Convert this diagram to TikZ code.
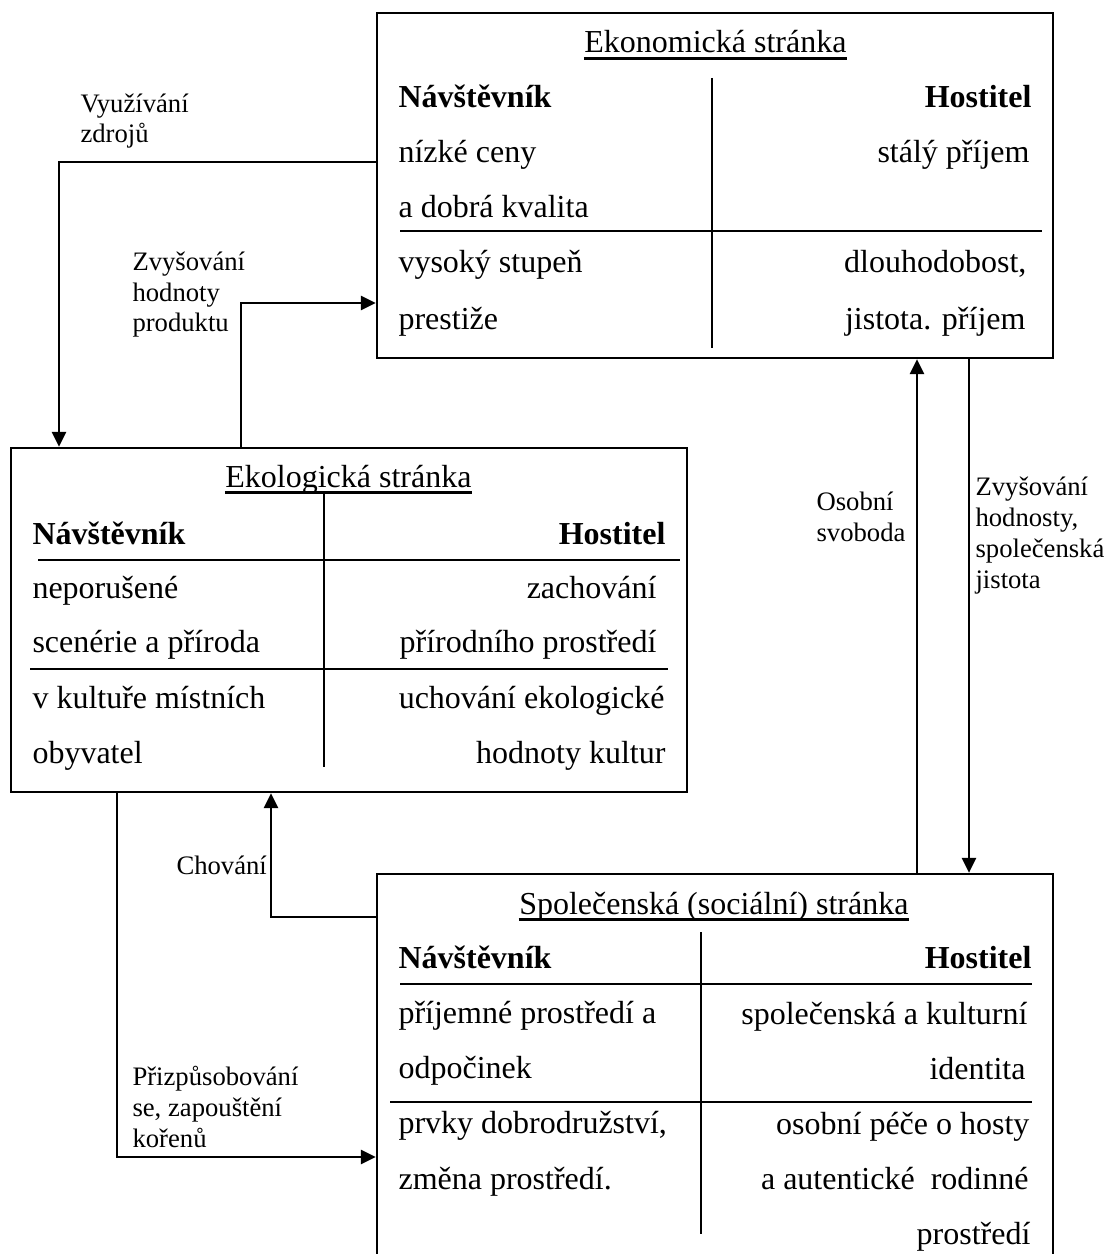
\documentclass[tikz,border=0pt]{standalone}
\usepackage{fontspec}
\setmainfont{Liberation Serif}
\usetikzlibrary{arrows.meta,fit}

\begin{document}
\begin{tikzpicture}[x=0.375pt,y=-0.375pt,
		box/.style={draw,line width=0.9pt,inner sep=0pt},
		txt/.style={inner sep=0pt,font=\fontsize{12}{14}\selectfont},
		lft/.style={txt,anchor=base west},
		rgt/.style={txt,anchor=base east},
		lbl/.style={inner sep=0pt,anchor=base west,align=left,font=\fontsize{10}{11.6}\selectfont},
		arr/.style={line width=0.75pt,-{Triangle[length=5.6pt,width=5.3pt]}}]
			\useasboundingbox (0,0) rectangle (1107,1254);

			\node[box,fit={(377,13) (1053,358)}] (eco) {};
			\node[box,fit={(11,448) (687,792)}] (ecol) {};
			\node[box,fit={(377,874) (1053,1262)}] (soc) {};

			\node[rgt] (ecoT) at (847,53) {Ekonomická stránka};
			\node[rgt] (ecolT) at (472,487) {Ekologická stránka};
			\node[rgt] (socT) at (909,914) {Společenská (sociální) stránka};
			\foreach \t in {ecoT,ecolT,socT}
			\draw[line width=0.9pt] ([yshift=-2pt]\t.base west) -- ([yshift=-2pt]\t.base east);

			\draw[line width=0.75pt] (712,78) -- (712,348);
			\draw[line width=0.75pt] (400,231) -- (1042,231);
			\draw[line width=0.75pt] (324,492) -- (324,767);
			\draw[line width=0.75pt] (38,560) -- (680,560);
			\draw[line width=0.75pt] (30,669) -- (668,669);
			\draw[line width=0.75pt] (701,932) -- (701,1234);
			\draw[line width=0.75pt] (400,984) -- (1032,984);
			\draw[line width=0.75pt] (390,1102) -- (1032,1102);

			\node[lft] (ecoV) at (398,108) {\textbf{Návštěvník}};
			\node[rgt] (ecoH) at (1032,108) {\textbf{Hostitel}};
			\node[lft] (ecolV) at (32,544) {\textbf{Návštěvník}};
			\node[rgt] (ecolH) at (666,544) {\textbf{Hostitel}};
			\node[lft] (socV) at (398,968) {\textbf{Návštěvník}};
			\node[rgt] (socH) at (1032,968) {\textbf{Hostitel}};

			\foreach \y/\t in {163/nízké ceny,218/a dobrá kvalita,273/vysoký stupeň,330/prestiže}
			\node[lft] (ecoL\y) at (398,\y) {\t};
			\foreach \y/\x/\t in {163/1030/stálý příjem,273/1027/{dlouhodobost,},330/1026/jistota. příjem}
			\node[rgt] (ecoR\y) at (\x,\y) {\t};

			\foreach \y/\t in {598/neporušené,652/scenérie a příroda,708/v kultuře místních,763/obyvatel}
			\node[lft] (ecolL\y) at (32,\y) {\t};
			\foreach \y/\x/\t in {598/657/zachování,652/657/přírodního prostředí,708/665/uchování ekologické,763/666/hodnoty kultur}
			\node[rgt] (ecolR\y) at (\x,\y) {\t};

			\foreach \y/\t in {1023/příjemné prostředí a,1078/odpočinek,1133/{prvky dobrodružství,},1189/změna prostředí.}
			\node[lft] (socL\y) at (398,\y) {\t};
			\foreach \y/\x/\t in {1024/1028/společenská a kulturní,1079/1026/identita,1134/1030/osobní péče o hosty,1189/1029/a autentické\ \ rodinné,1244/1031/prostředí}
			\node[rgt] (socR\y) at (\x,\y) {\t};

			\draw[arr] (eco.west |- 0,162) -| (59,0 |- ecol.north);
			\draw[arr] (241,0 |- ecol.north) |- (eco.west |- 0,303);
			\draw[arr] (917,0 |- soc.north) -- (917,0 |- eco.south);
			\draw[arr] (969,0 |- eco.south) -- (969,0 |- soc.north);
			\draw[arr] (soc.west |- 0,917) -| (271,0 |- ecol.south);
			\draw[arr] (117,0 |- ecol.south) |- (soc.west |- 0,1157);

			\node[lbl] (zdroje) at (80,143) {Využívání\\zdrojů};
			\node[lbl] (produkt) at (132,332) {Zvyšování\\hodnoty\\produktu};
			\node[lbl] (svoboda) at (816,541) {Osobní\\svoboda};
			\node[lbl] (jistota) at (975,588) {Zvyšování\\hodnosty,\\společenská\\jistota};
			\node[lbl] (chovani) at (176,874) {Chování};
			\node[lbl] (koreny) at (132,1147) {Přizpůsobování\\se, zapouštění\\kořenů};
		\end{tikzpicture}
\end{document}
